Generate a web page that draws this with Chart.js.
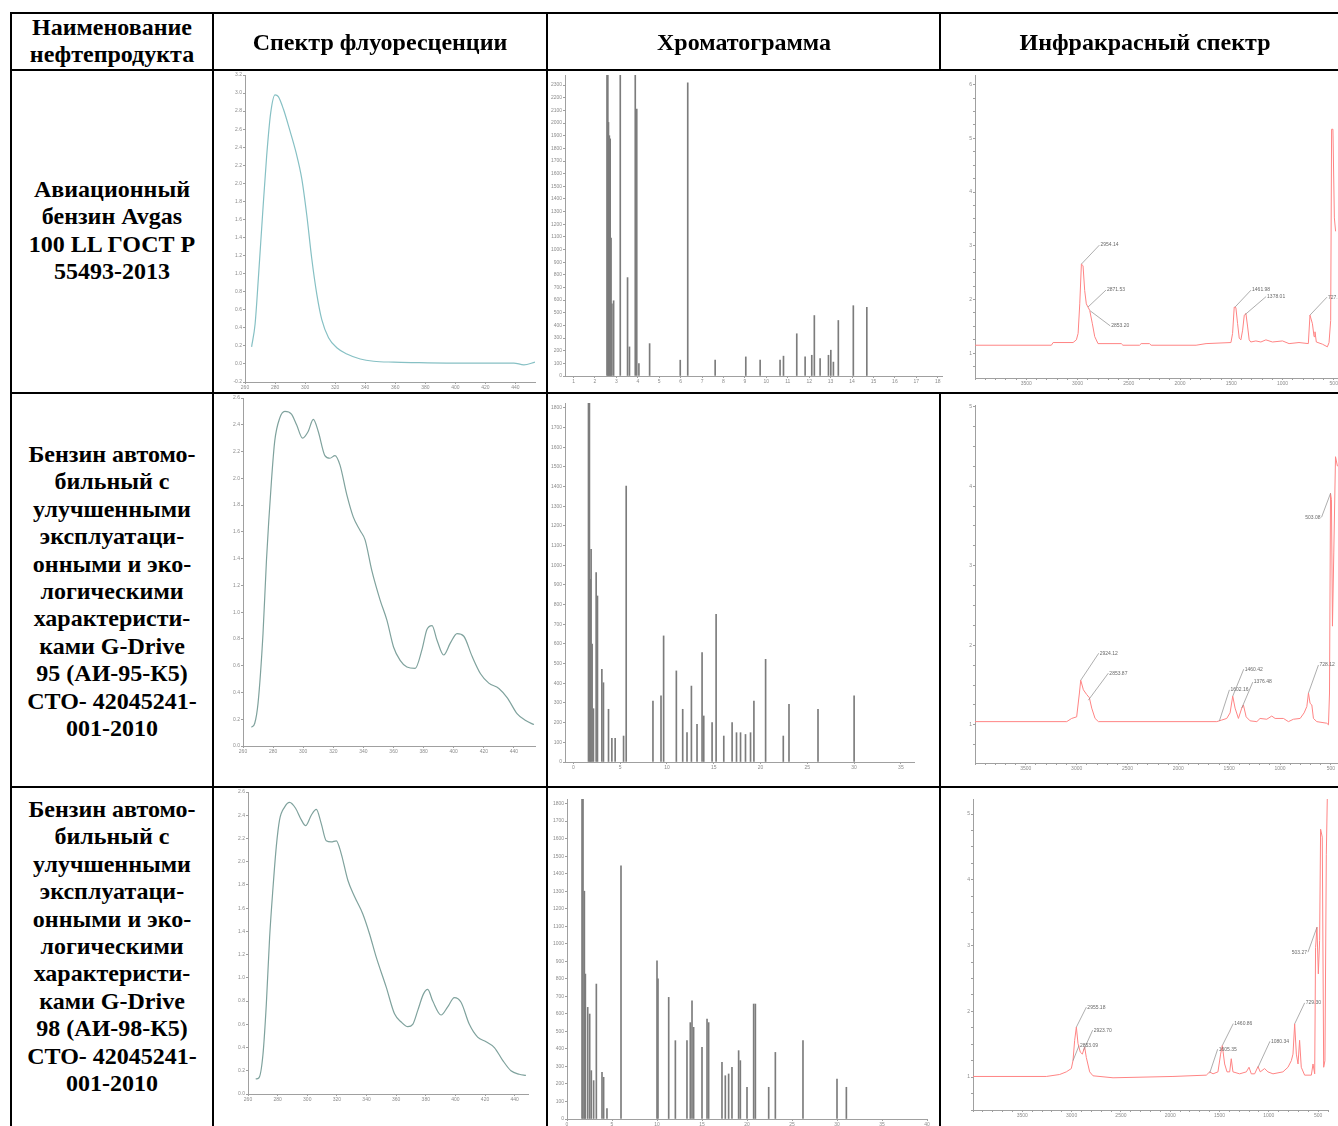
<!DOCTYPE html>
<html><head><meta charset="utf-8">
<script src="https://cdn.jsdelivr.net/npm/chart.js@4.4.1/dist/chart.umd.min.js"></script>
<style>
html,body{margin:0;padding:0;background:#fff;width:1338px;height:1126px;overflow:hidden;}
#page{position:relative;width:1338px;height:1126px;overflow:hidden;background:#fff;}
.hl{position:absolute;height:2px;background:#000;z-index:5}
.vl{position:absolute;width:2px;background:#000;z-index:5}
.txt{position:absolute;font-family:"Liberation Serif","Times New Roman",serif;font-weight:bold;font-size:24px;line-height:27.4px;text-align:center;color:#000;z-index:6;white-space:nowrap}
canvas{position:absolute;z-index:2}
</style></head><body><div id="page">
<div class="txt" style="left:12px;width:200px;top:14px">Наименование<br>нефтепродукта</div>
<div class="txt" style="left:213px;width:334px;top:29px">Спектр флуоресценции</div>
<div class="txt" style="left:548px;width:392px;top:29px">Хроматограмма</div>
<div class="txt" style="left:941px;width:408px;top:29px">Инфракрасный спектр</div>
<div class="txt" style="left:12px;width:200px;top:176px">Авиационный<br>бензин Avgas<br>100 LL ГОСТ Р<br>55493-2013</div>
<div class="txt" style="left:12px;width:200px;top:441px">Бензин автомо-<br>бильный с<br>улучшенными<br>эксплуатаци-<br>онными и эко-<br>логическими<br>характеристи-<br>ками G-Drive<br>95 (АИ-95-К5)<br>СТО- 42045241-<br>001-2010</div>
<div class="txt" style="left:12px;width:200px;top:796px">Бензин автомо-<br>бильный с<br>улучшенными<br>эксплуатаци-<br>онными и эко-<br>логическими<br>характеристи-<br>ками G-Drive<br>98 (АИ-98-К5)<br>СТО- 42045241-<br>001-2010</div>
<div class="hl" style="left:10px;width:1340px;top:12px"></div>
<div class="hl" style="left:10px;width:1340px;top:69px"></div>
<div class="hl" style="left:10px;width:1340px;top:392px"></div>
<div class="hl" style="left:10px;width:1340px;top:786px"></div>
<div class="vl" style="left:10px;top:12px;height:1114px"></div>
<div class="vl" style="left:212px;top:12px;height:1114px"></div>
<div class="vl" style="left:546px;top:12px;height:1114px"></div>
<div class="vl" style="left:939px;top:12px;height:58px"></div>
<div class="vl" style="left:939px;top:392px;height:734px"></div>
</div>
<script>
// ================= DATA =================
// Fluorescence spectra (wavelength, nm / intensity)
const fl1Wavelength = [264.4,266.7,268.9,271.8,274.4,277.1,280.0,282.2,285.6,289.6,294.0,297.8,301.1,304.4,307.8,311.1,315.6,321.1,327.8,336.7,345.6,358.9,372.2,394.4,416.7,438.9,445.6,453.0];
const fl1Intensity  = [0.19,0.44,0.95,1.68,2.30,2.78,2.98,2.96,2.82,2.60,2.34,2.05,1.65,1.17,0.77,0.49,0.29,0.18,0.11,0.055,0.03,0.02,0.015,0.01,0.01,0.01,-0.01,0.02];

const fl2Wavelength = [265.6,267.8,270.0,273.3,275.6,278.9,281.1,284.4,287.8,292.2,295.6,299.6,303.3,306.7,310.0,314.4,317.8,321.1,324.4,328.9,333.3,337.8,341.1,345.6,351.1,355.6,360.0,364.4,368.9,374.4,378.9,382.2,385.6,388.9,393.3,397.8,402.2,406.7,412.2,417.8,423.3,430.0,435.6,442.2,447.8,453.3];
const fl2Intensity  = [0.14,0.17,0.32,0.84,1.39,1.98,2.28,2.45,2.50,2.48,2.40,2.30,2.35,2.44,2.35,2.17,2.15,2.17,2.10,1.88,1.71,1.61,1.54,1.31,1.09,0.94,0.74,0.64,0.59,0.58,0.72,0.87,0.90,0.79,0.68,0.77,0.84,0.82,0.67,0.54,0.47,0.43,0.36,0.24,0.19,0.16];

const fl3Wavelength = [265.2,267.4,270.1,272.4,274.6,276.9,279.1,281.3,284.7,288.1,292.1,296.0,298.9,302.7,306.1,309.4,312.8,316.2,319.6,322.9,327.4,331.9,337.5,342.0,346.5,353.3,358.9,363.4,367.9,371.2,374.6,378.4,381.3,384.7,390.3,394.8,399.3,403.8,409.4,415.0,420.7,426.3,431.9,437.5,443.1,447.6];
const fl3Intensity  = [0.13,0.14,0.34,0.78,1.35,1.78,2.13,2.36,2.47,2.51,2.46,2.36,2.31,2.40,2.45,2.33,2.18,2.17,2.18,2.07,1.84,1.70,1.55,1.38,1.18,0.92,0.69,0.62,0.58,0.60,0.72,0.86,0.90,0.80,0.68,0.75,0.83,0.79,0.60,0.49,0.45,0.40,0.29,0.20,0.17,0.16];

// Chromatograms (retention time / peak height)
const c1Time   = [2.56,2.60,2.63,2.67,2.71,2.75,2.79,2.87,3.18,3.52,3.61,3.88,3.95,4.05,4.55,5.98,6.33,7.61,9.04,9.71,10.64,10.80,11.42,11.81,12.12,12.24,12.51,12.90,13.01,13.13,13.36,14.06,14.69];
const c1Height = [2600,2600,2005,1900,1875,1091,570,595,2600,778,230,2600,2110,99,256,125,2318,125,151,125,125,157,334,151,164,478,138,164,204,110,439,556,543];

const c2Time   = [1.61,1.71,1.79,1.89,2.00,2.14,2.43,2.57,3.04,3.21,3.75,4.11,4.46,5.36,5.64,8.50,9.36,9.64,11.00,11.68,12.14,12.61,13.21,13.75,13.93,14.82,15.25,16.07,16.96,17.43,17.86,18.39,18.93,19.29,20.54,22.43,23.04,26.14,30.00];
const c2Height = [1900,1900,929,1081,600,271,963,844,471,403,268,120,120,132,1403,310,336,641,463,268,150,386,192,556,234,200,751,132,200,149,149,140,149,310,522,132,293,268,336];

const c3Time   = [1.67,1.78,1.93,2.04,2.30,2.52,2.70,2.96,3.26,3.89,4.07,4.44,6.00,10.00,10.11,11.30,12.04,13.33,13.70,13.89,14.07,15.00,15.56,15.74,17.22,17.59,17.96,18.33,19.07,19.26,20.00,20.74,20.93,22.41,23.15,26.22,30.00,31.04];
const c3Height = [1900,1900,1300,827,637,599,276,219,770,266,238,60,1445,903,800,694,447,447,550,675,523,409,570,550,323,247,257,295,390,333,181,656,656,181,380,447,228,181];

// IR spectra (wavenumber, cm-1 / absorbance)
const ir1Wavenumber = [4000,3255,3238,3043,3011,2994,2978,2962,2946,2930,2914,2898,2881,2855,2832,2800,2573,2557,2395,2379,2298,2282,1843,1746,1503,1487,1471,1455,1438,1422,1406,1389,1373,1357,1340,1325,1309,1260,1211,1162,1098,1000,936,839,748,732,708,692,683,670,611,562,546,530,521,508,494,482];
const ir1Absorbance = [1.15,1.15,1.20,1.20,1.25,1.37,1.92,2.66,2.63,2.17,1.92,1.86,1.80,1.55,1.31,1.18,1.18,1.15,1.15,1.18,1.18,1.15,1.15,1.18,1.20,1.37,1.86,1.85,1.55,1.28,1.25,1.43,1.71,1.74,1.49,1.25,1.21,1.23,1.21,1.25,1.21,1.23,1.18,1.20,1.18,1.71,1.55,1.31,1.40,1.21,1.17,1.12,1.20,1.61,5.17,5.17,3.52,3.27];

const ir2Wavenumber = [4000,3098,3049,3000,2973,2960,2934,2901,2875,2852,2819,2786,1622,1573,1524,1491,1465,1442,1409,1376,1360,1333,1294,1228,1196,1130,1081,1048,966,917,868,802,763,736,720,704,687,671,638,540,523,513,503,494,484,471,454,435];
const ir2Absorbance = [1.04,1.04,1.08,1.10,1.40,1.56,1.44,1.38,1.34,1.21,1.08,1.04,1.04,1.06,1.08,1.15,1.36,1.21,1.08,1.21,1.25,1.10,1.05,1.04,1.08,1.07,1.11,1.08,1.08,1.04,1.07,1.08,1.15,1.23,1.40,1.27,1.25,1.08,1.04,1.02,1.00,1.40,3.91,3.83,2.24,3.16,4.37,4.25];

const ir3Wavenumber = [4000,3256,3121,3054,3003,2986,2969,2952,2935,2912,2891,2868,2851,2817,2783,2580,1972,1634,1600,1566,1516,1489,1472,1448,1424,1397,1381,1364,1296,1228,1201,1178,1144,1110,1087,1043,1009,958,857,806,772,755,738,721,704,688,671,637,569,552,535,526,512,498,485,475,458,444,431,417,407];
const ir3Absorbance = [1.01,1.01,1.04,1.08,1.13,1.25,1.56,1.76,1.51,1.38,1.35,1.46,1.30,1.08,1.02,0.99,1.01,1.03,1.08,1.05,1.08,1.35,1.48,1.20,1.08,1.08,1.28,1.08,1.05,1.08,1.15,1.05,1.05,1.16,1.08,1.13,1.08,1.05,1.08,1.15,1.25,1.35,1.81,1.35,1.20,1.56,1.15,1.03,1.03,1.20,1.05,2.97,3.28,2.57,3.08,4.77,4.65,1.15,1.25,4.39,5.25];

// IR peak annotations
const ir1PeakWn = [2962,2898,2876,1463,1365,732];
const ir1PeakAbs = [2.66,1.86,1.79,1.86,1.72,1.71];
const ir1PeakText = ["2954.14","2871.53","2853.20","1461.98","1378.01","727.87"];
const ir2PeakWn = [2960,2885,1596,1465,1376,720,503];
const ir2PeakAbs = [1.56,1.31,1.05,1.36,1.21,1.40,3.91];
const ir2PeakText = ["2924.12","2853.87","1602.16","1460.42","1376.48","728.12","503.08"];
const ir3PeakWn = [2952,2878,2986,1600,1472,1110,738,512];
const ir3PeakAbs = [1.76,1.41,1.25,1.06,1.48,1.15,1.81,3.28];
const ir3PeakText = ["2955.18","2923.70","2853.09","1605.35","1460.86","1080.34","729.30","503.27"];

// Tick labels
const flXTicks = [260,280,300,320,340,360,380,400,420,440];
const fl1YTicks = [-0.2,0,0.2,0.4,0.6,0.8,1.0,1.2,1.4,1.6,1.8,2.0,2.2,2.4,2.6,2.8,3.0,3.2];
const fl23YTicks = [0,0.2,0.4,0.6,0.8,1.0,1.2,1.4,1.6,1.8,2.0,2.2,2.4,2.6];
const c1XTicks = [1,2,3,4,5,6,7,8,9,10,11,12,13,14,15,16,17,18];
const c1YTicks = [0,100,200,300,400,500,600,700,800,900,1000,1100,1200,1300,1400,1500,1600,1700,1800,1900,2000,2100,2200,2300];
const c2XTicks = [0,5,10,15,20,25,30,35];
const c3XTicks = [0,5,10,15,20,25,30,35,40];
const c23YTicks = [0,100,200,300,400,500,600,700,800,900,1000,1100,1200,1300,1400,1500,1600,1700,1800];
const irXTicks = [3500,3000,2500,2000,1500,1000,500];
const ir1YTicks = [1,2,3,4,5,6];
const ir23YTicks = [1,2,3,4,5];

// ================= LAYOUT / STYLE =================
const ir1LabelOffset = [[18,-19],[18,-17],[20,15],[16,-17],[21,-18],[17,-18]];
const ir2LabelOffset = [[18,-27],[20,-27],[10,-31],[11,-27],[11,-26],[10,-28],[-9,24]];
const ir3LabelOffset = [[10,-20],[9,-20],[6,-15],[8,-24],[11,-22],[12,-26],[10,-21],[-9,25]];

const page = document.getElementById('page');
const AX = '#a0a0a0', TXT = '#8c8c8c';

const peakLabelPlugin = {
  id: 'peakLabels',
  afterDatasetsDraw(chart, args, opts) {
    const ctx = chart.ctx, xs = chart.scales.x, ys = chart.scales.y;
    const wn = opts.wn || [], ab = opts.ab || [], tx = opts.text || [], off = opts.offset || [];
    ctx.save();
    ctx.font = '5px "Liberation Sans", Arial';
    ctx.textBaseline = 'middle';
    for (let i = 0; i < wn.length; i++) {
      const px = xs.getPixelForValue(wn[i]), py = ys.getPixelForValue(ab[i]);
      const lx = px + off[i][0], ly = py + off[i][1];
      ctx.strokeStyle = '#8a8a8a'; ctx.lineWidth = 0.7;
      ctx.beginPath(); ctx.moveTo(px, py); ctx.lineTo(lx, ly); ctx.stroke();
      ctx.fillStyle = '#6a6a6a';
      ctx.textAlign = off[i][0] >= 0 ? 'left' : 'right';
      ctx.fillText(tx[i], lx + (off[i][0] >= 0 ? 1 : -1), ly);
    }
    ctx.restore();
  }
};

function pts(xs, ys) { return xs.map((v, i) => ({x: v, y: ys[i]})); }

function scaleCfg(min, max, ticks, labelFn, reverse, minorStep) {
  return {
    type: 'linear', min: min, max: max, reverse: !!reverse, offset: false,
    border: {display: true, color: AX, width: 1},
    grid: {display: true, drawOnChartArea: false, drawTicks: true, tickLength: 2, color: AX, offset: false},
    ticks: {autoSkip: false, maxRotation: 0, minRotation: 0, padding: 1,
      font: {size: 5, family: 'Liberation Sans'}, color: TXT,
      callback: (v) => ticks.some(t => Math.abs(t - v) < 1e-9) ? labelFn(v) : ''},
    afterBuildTicks: (s) => {
      let vals = ticks.slice();
      if (minorStep) {
        vals = [];
        const lo = Math.min(min, max), hi = Math.max(min, max);
        for (let v = Math.ceil(lo / minorStep) * minorStep; v <= hi + 1e-9; v += minorStep) vals.push(+v.toFixed(4));
      }
      s.ticks = vals.map(v => ({value: v}));
    }
  };
}

function makeChart(box, area, type, datasets, xs, ys, pluginOpts) {
  const c = document.createElement('canvas');
  c.width = box.w; c.height = box.h;
  c.style.left = box.x + 'px'; c.style.top = box.y + 'px';
  c.style.width = box.w + 'px'; c.style.height = box.h + 'px';
  page.appendChild(c);
  const yW = area.x0 - box.x, padR = box.x + box.w - area.x1;
  const padT = area.y0 - box.y, xH = box.y + box.h - area.y1;
  xs.afterFit = (s) => { s.height = xH; };
  ys.afterFit = (s) => { s.width = yW; };
  const plugins = {legend: {display: false}, tooltip: {enabled: false}};
  const extra = [];
  if (pluginOpts) { plugins.peakLabels = pluginOpts; extra.push(peakLabelPlugin); }
  return new Chart(c, {
    type: type,
    data: {datasets: datasets},
    options: {
      responsive: false, animation: false, devicePixelRatio: 1, events: [],
      layout: {autoPadding: false, padding: {left: 0, right: padR, top: padT, bottom: 0}},
      scales: {x: xs, y: ys},
      plugins: plugins
    },
    plugins: extra
  });
}

const f1 = v => v.toFixed(1), f0 = v => String(v);

// ---- Fluorescence ----
function flLine(xs, ys, color) {
  return {data: pts(xs, ys), borderColor: color, borderWidth: 1.2, pointRadius: 0,
          tension: 0.4, cubicInterpolationMode: 'monotone', fill: false};
}
makeChart({x:214,y:71,w:332,h:321},{x0:245,x1:535,y0:72,y1:382},'line',
  [flLine(fl1Wavelength, fl1Intensity, '#86c0c4')],
  scaleCfg(260, 453, flXTicks, f0), scaleCfg(-0.2, 3.2, fl1YTicks, f1));
makeChart({x:214,y:394,w:332,h:370},{x0:243,x1:535,y0:396,y1:746},'line',
  [flLine(fl2Wavelength, fl2Intensity, '#7fa29d')],
  scaleCfg(260, 454, flXTicks, f0), scaleCfg(0, 2.6, fl23YTicks, f1));
makeChart({x:214,y:788,w:332,h:320},{x0:248,x1:528,y0:792,y1:1094},'line',
  [flLine(fl3Wavelength, fl3Intensity, '#7fa29d')],
  scaleCfg(260, 449, flXTicks, f0), scaleCfg(0, 2.6, fl23YTicks, f1));

// ---- Chromatograms ----
function bars(xs, ys) {
  return {data: pts(xs, ys), backgroundColor: '#7c7c7c', borderWidth: 0, barThickness: 1, grouped: false};
}
makeChart({x:548,y:71,w:400,h:321},{x0:565,x1:942,y0:71,y1:376},'bar',
  [bars(c1Time, c1Height)],
  scaleCfg(0.6, 18.2, c1XTicks, f0), scaleCfg(0, 2380, c1YTicks, f0));
makeChart({x:548,y:394,w:392,h:380},{x0:565,x1:914,y0:403,y1:762},'bar',
  [bars(c2Time, c2Height)],
  scaleCfg(-0.9, 36.4, c2XTicks, f0), scaleCfg(0, 1825, c23YTicks, f0));
makeChart({x:548,y:788,w:392,h:338},{x0:567,x1:927,y0:799,y1:1119},'bar',
  [bars(c3Time, c3Height)],
  scaleCfg(0, 40, c3XTicks, f0), scaleCfg(0, 1826, c23YTicks, f0));

// ---- IR spectra ----
function irLine(xs, ys) {
  return {data: pts(xs, ys), borderColor: '#ff8484', borderWidth: 1, pointRadius: 0, tension: 0, fill: false};
}
makeChart({x:941,y:71,w:420,h:321},{x0:975,x1:1344,y0:72,y1:378},'line',
  [irLine(ir1Wavenumber, ir1Absorbance)],
  scaleCfg(400, 4000, irXTicks, f0, true, 100), scaleCfg(0.54, 6.18, ir1YTicks, f0, false, 0.25),
  {wn: ir1PeakWn, ab: ir1PeakAbs, text: ir1PeakText, offset: ir1LabelOffset});
makeChart({x:941,y:394,w:420,h:380},{x0:975,x1:1341,y0:405,y1:763},'line',
  [irLine(ir2Wavenumber, ir2Absorbance)],
  scaleCfg(400, 4000, irXTicks, f0, true, 100), scaleCfg(0.52, 5.02, ir23YTicks, f0, false, 0.25),
  {wn: ir2PeakWn, ab: ir2PeakAbs, text: ir2PeakText, offset: ir2LabelOffset});
makeChart({x:941,y:788,w:420,h:338},{x0:973,x1:1328,y0:799,y1:1110},'line',
  [irLine(ir3Wavenumber, ir3Absorbance)],
  scaleCfg(400, 4000, irXTicks, f0, true, 100), scaleCfg(0.50, 5.23, ir23YTicks, f0, false, 0.25),
  {wn: ir3PeakWn, ab: ir3PeakAbs, text: ir3PeakText, offset: ir3LabelOffset});
</script>
</body></html>
